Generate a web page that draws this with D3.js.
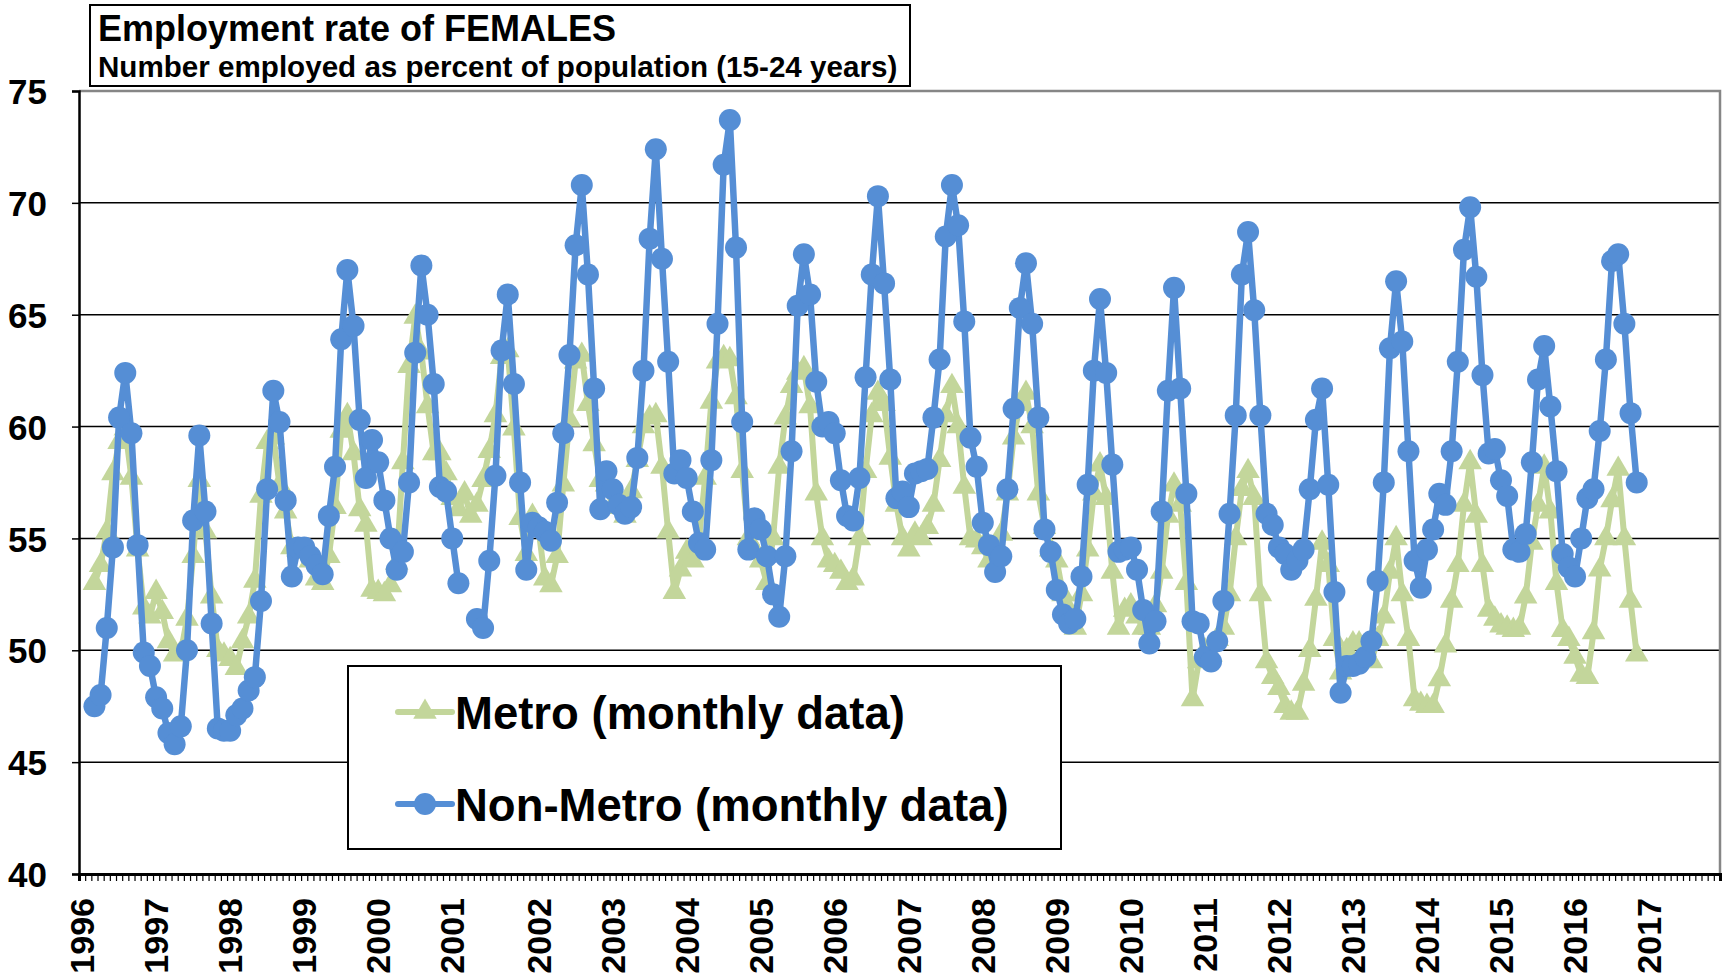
<!DOCTYPE html>
<html>
<head>
<meta charset="utf-8">
<script src="https://cdn.jsdelivr.net/npm/d3@7/dist/d3.min.js"></script>
<style>
  body { margin: 0; background: #ffffff; }
  svg text { font-family: "Liberation Sans", Arial, sans-serif; font-weight: bold; fill: #000; }
</style>
</head>
<body>
<div id="chart"></div>
<script>

// year labels and the category (row) each one sits on; 2001 has two extra blank rows
var years = ["1996","1997","1998","1999","2000","2001","2002","2003","2004","2005","2006",
             "2007","2008","2009","2010","2011","2012","2013","2014","2015","2016","2017"];
var yearCats = [0,12,24,36,48,60,74,86,98,110,122,134,146,158,170,182,194,206,218,230,242,254];
var nCats = 266;     // rows on the category axis
var firstCat = 2;    // first row that holds data

var yTicks = [40, 45, 50, 55, 60, 65, 70, 75];

// Non-Metro (monthly data), one value per row starting at firstCat
var nonMetro = [
  47.5, 48.0, 51.0, 54.6, 60.4, 62.4, 59.7, 54.7, 49.9, 49.3,
  47.9, 47.4, 46.3, 45.8, 46.6, 50.0, 55.8, 59.6, 56.2, 51.2, 46.5, 46.4,
  46.4, 47.1, 47.4, 48.2, 48.8, 52.2, 57.2, 61.6, 60.2, 56.7, 53.3, 54.6,
  54.6, 54.2, 53.8, 53.4, 56.0, 58.2, 63.9, 67.0, 64.5, 60.3, 57.7, 59.4,
  58.4, 56.7, 55.0, 53.6, 54.4, 57.5, 63.3, 67.2, 65.0, 61.9, 57.3, 57.1,
  55.0, 53.0, null, null, 51.4, 51.0, 54.0, 57.8, 63.4, 65.9, 61.9, 57.5, 53.6, 55.7,
  55.5, 55.3, 54.9, 56.6, 59.7, 63.2, 68.1, 70.8, 66.8, 61.7, 56.3, 58.0,
  57.2, 56.5, 56.1, 56.4, 58.6, 62.5, 68.4, 72.4, 67.5, 62.9, 57.9, 58.5,
  57.7, 56.2, 54.8, 54.5, 58.5, 64.6, 71.7, 73.7, 68.0, 60.2, 54.5, 55.9,
  55.4, 54.2, 52.5, 51.5, 54.2, 58.9, 65.4, 67.7, 65.9, 62.0, 60.0, 60.2,
  59.7, 57.6, 56.0, 55.8, 57.7, 62.2, 66.8, 70.3, 66.4, 62.1, 56.8, 57.1,
  56.4, 57.9, 58.0, 58.1, 60.4, 63.0, 68.5, 70.8, 69.0, 64.7, 59.5, 58.2,
  55.7, 54.7, 53.5, 54.2, 57.2, 60.8, 65.3, 67.3, 64.6, 60.4, 55.4, 54.4,
  52.7, 51.6, 51.2, 51.4, 53.3, 57.4, 62.5, 65.7, 62.4, 58.3, 54.4, 54.5,
  54.6, 53.6, 51.8, 50.3, 51.3, 56.2, 61.6, 66.2, 61.7, 57.0, 51.3, 51.2,
  49.7, 49.5, 50.4, 52.2, 56.1, 60.5, 66.8, 68.7, 65.2, 60.5, 56.1, 55.6,
  54.6, 54.3, 53.6, 54.0, 54.5, 57.2, 60.3, 61.7, 57.4, 52.6, 48.1, 49.3,
  49.3, 49.4, 49.7, 50.4, 53.1, 57.5, 63.5, 66.5, 63.8, 58.9, 54.0, 52.8,
  54.5, 55.4, 57.0, 56.5, 58.9, 62.9, 67.9, 69.8, 66.7, 62.3, 58.8, 59.0,
  57.6, 56.9, 54.5, 54.4, 55.2, 58.4, 62.1, 63.6, 60.9, 58.0, 54.3, 53.7,
  53.3, 55.0, 56.8, 57.2, 59.8, 63.0, 67.4, 67.7, 64.6, 60.6, 57.5
];

// Metro (monthly data)
var metro = [
  53.0, 53.8, 55.3, 57.9, 59.3, 59.9, 57.7, 54.5, 51.9, 51.5,
  52.6, 51.7, 50.4, 49.8, 49.9, 51.4, 54.2, 57.6, 55.3, 52.4, 50.0, 49.8,
  49.6, 49.2, 50.4, 51.5, 53.1, 56.9, 59.3, 59.5, 57.4, 56.2, 54.6, 54.5,
  54.4, 54.0, 53.2, 53.0, 54.2, 56.4, 59.8, 60.5, 58.8, 56.3, 55.6, 52.7,
  52.6, 52.5, 52.9, 53.9, 58.4, 62.7, 64.9, 63.3, 60.9, 58.8, 58.8, 57.9,
  56.8, 56.3, 57.0, 56.0, 56.5, 57.6, 58.9, 60.5, 63.1, 63.4, 59.9, 55.9, 54.3, 56.0,
  55.4, 53.2, 52.9, 54.2, 57.4, 60.3, 62.9, 63.2, 61.0, 59.2, 57.6, 57.4,
  56.4, 56.6, 56.0, 57.1, 58.5, 60.0, 60.4, 60.5, 58.2, 55.3, 52.6, 53.6,
  54.4, 54.0, 55.0, 57.7, 61.1, 62.9, 63.1, 63.0, 61.3, 58.0, 55.0, 54.5,
  54.0, 53.0, 55.0, 58.2, 60.4, 61.8, 62.4, 62.6, 60.9, 57.0, 55.0, 54.0,
  53.8, 53.5, 53.0, 53.2, 55.0, 58.0, 60.5, 61.5, 61.0, 58.6, 56.5, 55.0,
  54.5, 55.2, 55.0, 55.5, 56.5, 58.5, 60.5, 61.8, 60.0, 57.3, 55.0, 54.9,
  54.6, 54.0, 54.5, 55.2, 57.0, 59.5, 61.0, 61.5, 60.0, 57.0, 55.5, 54.5,
  54.0, 52.5, 51.8, 51.0, 52.5, 54.5, 57.0, 58.3, 56.8, 53.5, 51.0, 51.8,
  52.0, 51.5, 51.0, 51.0, 52.0, 53.5, 56.0, 57.4, 56.5, 53.0, 47.8, 49.5,
  50.0, 49.8, 50.5, 51.0, 52.5, 55.0, 57.2, 58.0, 56.8, 52.5, 49.5, 48.8,
  48.3, 47.5, 47.2, 47.2, 48.5, 50.0, 52.3, 54.8, 53.8, 50.5, 49.0, 50.0,
  50.3, 50.3, 50.0, 49.5, 50.5, 51.5, 53.5, 55.0, 52.5, 50.5, 47.8, 47.6,
  47.5, 47.5, 48.7, 50.2, 52.2, 53.8, 56.5, 58.4, 56.0, 53.8, 51.8, 51.4,
  51.1, 51.0, 50.9, 51.0, 52.4, 54.8, 56.5, 58.2, 56.2, 53.0, 50.9, 50.5,
  49.7, 48.9, 48.8, 50.8, 53.6, 55.0, 56.7, 58.1, 55.0, 52.2, 49.8
];

var seriesNames = ["Metro (monthly data)", "Non-Metro (monthly data)"];
var metroColor = "#c3d69b",
    nonMetroColor = "#558ed5";

// set the dimensions and margins of the graph
var margin = {top: 91, right: 3, bottom: 100, left: 79},
    width = 1723 - margin.left - margin.right,
    height = 974 - margin.top - margin.bottom;

var svg = d3.select("#chart")
  .append("svg")
    .attr("width", 1723)
    .attr("height", 974);

var g = svg.append("g")
    .attr("transform", "translate(" + margin.left + "," + margin.top + ")");

// scales
var x = d3.scaleLinear()
    .domain([0, nCats])
    .range([0, width]);
var xBand = d3.scaleBand()
    .domain(d3.range(nCats))
    .range([0, width]);
var y = d3.scaleLinear()
    .domain([40, 75])
    .range([height, 0]);

// horizontal gridlines
g.append("g")
  .selectAll("line")
  .data(yTicks.slice(1, -1))
  .enter()
  .append("line")
    .attr("x1", 0)
    .attr("x2", width)
    .attr("y1", function(d) { return y(d); })
    .attr("y2", function(d) { return y(d); })
    .attr("stroke", "#000")
    .attr("stroke-width", 1.5);

// plot area border, top and right
g.append("path")
  .attr("d", "M0," + y(75) + "H" + width + "V" + height)
  .attr("fill", "none")
  .attr("stroke", "#868686")
  .attr("stroke-width", 2.5);

// Y axis
var yAxis = g.append("g")
  .call(d3.axisLeft(y).tickValues(yTicks).tickSize(7).tickPadding(25));
yAxis.select(".domain").attr("stroke-width", 2.5);
yAxis.selectAll(".tick line").attr("stroke-width", 1.5);
yAxis.selectAll("text")
  .style("font-size", "35px")
  .attr("dy", "0.36em");

// X axis with one small tick per row
var xAxis = g.append("g")
  .attr("transform", "translate(0," + height + ")")
  .call(d3.axisBottom(x).tickValues(d3.range(nCats + 1)).tickSize(7).tickFormat(""));
xAxis.select(".domain").attr("stroke-width", 3);
xAxis.selectAll(".tick line").attr("stroke-width", 1.2);

// year labels, rotated
g.append("g")
  .attr("transform", "translate(0," + height + ")")
  .call(d3.axisBottom(xBand).tickValues(yearCats).tickSize(0)
        .tickFormat(function(d, i) { return years[i]; }))
  .call(function(s) { s.select(".domain").remove(); })
  .selectAll("text")
    .style("font-size", "34px")
    .attr("text-anchor", "end")
    .attr("transform", "rotate(-90)")
    .attr("x", -24)
    .attr("y", 0)
    .attr("dy", "0.36em");

// line generator
var line = d3.line()
  .defined(function(d) { return d != null; })
  .x(function(d, i) { return x(firstCat + i + 0.5); })
  .y(function(d) { return y(d); });

function points(arr) {
  return arr.map(function(v, i) { return {i: i, v: v}; })
            .filter(function(d) { return d.v != null; });
}

var triangle = d3.symbol().type(d3.symbolTriangle).size(240);

// Metro series
g.append("path")
  .datum(metro)
  .attr("fill", "none")
  .attr("stroke", metroColor)
  .attr("stroke-width", 6)
  .attr("stroke-linejoin", "round")
  .attr("d", line);
g.append("g")
  .selectAll("path")
  .data(points(metro))
  .enter()
  .append("path")
    .attr("d", triangle)
    .attr("fill", metroColor)
    .attr("transform", function(d) {
      return "translate(" + x(firstCat + d.i + 0.5) + "," + y(d.v) + ")";
    });

// Non-Metro series
g.append("path")
  .datum(nonMetro)
  .attr("fill", "none")
  .attr("stroke", nonMetroColor)
  .attr("stroke-width", 6.5)
  .attr("stroke-linejoin", "round")
  .attr("d", line);
g.append("g")
  .selectAll("circle")
  .data(points(nonMetro))
  .enter()
  .append("circle")
    .attr("cx", function(d) { return x(firstCat + d.i + 0.5); })
    .attr("cy", function(d) { return y(d.v); })
    .attr("r", 11)
    .attr("fill", nonMetroColor);

// title box
var title = svg.append("g");
title.append("rect")
  .attr("x", 90).attr("y", 5)
  .attr("width", 820).attr("height", 81)
  .attr("fill", "#fff")
  .attr("stroke", "#000")
  .attr("stroke-width", 2);
title.append("text")
  .attr("x", 98).attr("y", 41)
  .style("font-size", "36px")
  .text("Employment rate of FEMALES");
title.append("text")
  .attr("x", 98).attr("y", 77)
  .style("font-size", "29.6px")
  .text("Number employed as percent of population (15-24 years)");

// legend
var legend = svg.append("g");
legend.append("rect")
  .attr("x", 348).attr("y", 666)
  .attr("width", 713).attr("height", 183)
  .attr("fill", "#fff")
  .attr("stroke", "#000")
  .attr("stroke-width", 2);

var legendRows = [
  {name: seriesNames[0], color: metroColor, y: 712, mark: "tri"},
  {name: seriesNames[1], color: nonMetroColor, y: 804, mark: "dot"}
];
legendRows.forEach(function(r) {
  legend.append("line")
    .attr("x1", 398).attr("x2", 452)
    .attr("y1", r.y).attr("y2", r.y)
    .attr("stroke", r.color)
    .attr("stroke-width", 6)
    .attr("stroke-linecap", "round");
  if (r.mark == "tri") {
    legend.append("path")
      .attr("d", triangle)
      .attr("fill", r.color)
      .attr("transform", "translate(425," + r.y + ")");
  } else {
    legend.append("circle")
      .attr("cx", 425).attr("cy", r.y).attr("r", 11)
      .attr("fill", r.color);
  }
  legend.append("text")
    .attr("x", 455).attr("y", r.y + 17)
    .style("font-size", "45.5px")
    .text(r.name);
});

</script>
</body>
</html>
